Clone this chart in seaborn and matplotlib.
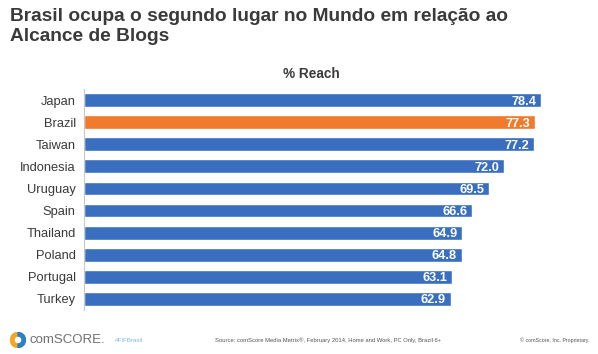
import pandas as pd
import matplotlib
matplotlib.use("Agg")
import matplotlib.pyplot as plt
from matplotlib.patches import Wedge
import seaborn as sns

# Data
countries = ['Japan', 'Brazil', 'Taiwan', 'Indonesia', 'Uruguay', 'Spain',
             'Thailand', 'Poland', 'Portugal', 'Turkey']
reach = [78.4, 77.3, 77.2, 72.0, 69.5, 66.6, 64.9, 64.8, 63.1, 62.9]
highlight = 'Brazil'

BLUE = '#3a6fc0'
ORANGE = '#f07b2c'
TXT = '#3a3a3a'

df = pd.DataFrame({'country': countries, 'reach': reach})
palette = {c: (ORANGE if c == highlight else BLUE) for c in countries}

sns.set_style("white")
plt.rcParams['font.family'] = ['Liberation Sans', 'DejaVu Sans']

fig = plt.figure(figsize=(5.98, 3.54), dpi=100)
ax = fig.add_axes([84 / 598, 1 - 310 / 354, 478 / 598, 221 / 354])

sns.barplot(data=df, x='reach', y='country', hue='country', palette=palette,
            order=countries, width=0.62, dodge=False, legend=False, ax=ax, saturation=1)

for bar, v in zip(ax.patches, reach):
    ax.text(bar.get_width() - 0.8, bar.get_y() + bar.get_height() / 2, f"{v:.1f}",
            ha='right', va='center_baseline', color='white', fontsize=9.2, fontweight='bold')

ax.set_xlim(0, 82)
ax.set_ylim(9.5, -0.5)
ax.set_xlabel('')
ax.set_ylabel('')
ax.set_xticks([])
for s in ['top', 'right', 'bottom']:
    ax.spines[s].set_visible(False)
ax.spines['left'].set_color('#c8c8c8')
ax.spines['left'].set_linewidth(0.8)
ax.tick_params(axis='y', which='major', length=0, pad=6, labelsize=9.3, labelcolor=TXT)
ax.set_yticks([i + 0.5 for i in range(-1, 10)], minor=True)
ax.tick_params(axis='y', which='minor', length=3, color='#c8c8c8', width=0.8)

# Titles
fig.text(10 / 598, 1 - 8 / 354, "Brasil ocupa o segundo lugar no Mundo em relação ao\nAlcance de Blogs",
         ha='left', va='top', fontsize=13.8, fontweight='bold', color=TXT, linespacing=1.2)
fig.text(311 / 598, 1 - 74 / 354, "% Reach", ha='center', va='center',
         fontsize=9.8, fontweight='bold', color=TXT)

# Footer
ly = 1 - 340 / 354
logo = fig.add_axes([10 / 598, 1 - 348 / 354, 16 / 598, 16 / 354])
logo.set_xlim(-1, 1)
logo.set_ylim(-1, 1)
logo.set_aspect('equal')
logo.axis('off')
logo.add_patch(Wedge((0, 0), 0.95, 90, 270, width=0.45, color='#f5a623'))
logo.add_patch(Wedge((0, 0), 0.95, -90, 90, width=0.45, color='#2f7fc7'))
fig.text(30 / 598, ly, "comSCORE.", ha='left', va='center', fontsize=9.5, color='#707070')
fig.text(115 / 598, ly, "#FIFBrasil", ha='left', va='center', fontsize=4.5, color='#7fb8e8')
fig.text(215 / 598, ly, "Source: comScore Media Metrix®, February 2014, Home and Work, PC Only, Brazil 6+",
         ha='left', va='center', fontsize=4.2, color='#555555')
fig.text(590 / 598, ly, "© comScore, Inc. Proprietary.", ha='right', va='center',
         fontsize=3.8, color='#555555')

fig.savefig("out.png", dpi=100)
